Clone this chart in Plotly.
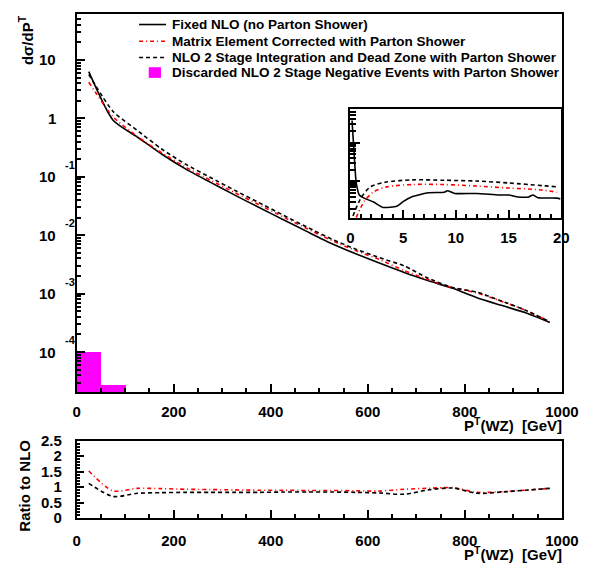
import plotly.graph_objects as go

# ---------------- data ----------------
pt = [25, 75, 125, 175, 225, 275, 325, 375, 425, 475, 525, 575, 625, 675, 725, 775, 825, 875, 925, 975]
fixed_nlo = [6.3, 0.93, 0.48, 0.245, 0.135, 0.081, 0.049, 0.030, 0.0186, 0.0115, 0.0072, 0.0048,
             0.0033, 0.0023, 0.00166, 0.00123, 0.00085, 0.00063, 0.00047, 0.00032]
me_corrected = [4.15, 1.06, 0.493, 0.258, 0.145, 0.0883, 0.0538, 0.0336, 0.0207, 0.0129, 0.00815, 0.00545,
                0.0038, 0.00247, 0.00173, 0.00126, 0.00103, 0.00074, 0.00052, 0.00033]
nlo_two_stage = [5.64, 1.31, 0.622, 0.299, 0.163, 0.098, 0.059, 0.0364, 0.0222, 0.0137, 0.00863, 0.00577,
                 0.00409, 0.00298, 0.00182, 0.00127, 0.00106, 0.00075, 0.00052, 0.00033]

neg_bins = [25, 75]
neg_values = [1.0e-4, 2.7e-5]

ratio_me = [1.52, 0.88, 0.96, 0.95, 0.93, 0.92, 0.91, 0.90, 0.90, 0.89, 0.89, 0.88,
            0.87, 0.93, 0.96, 0.98, 0.83, 0.85, 0.90, 0.96]
ratio_two_stage = [1.12, 0.70, 0.80, 0.82, 0.83, 0.83, 0.83, 0.83, 0.84, 0.84, 0.84, 0.83,
                   0.81, 0.77, 0.91, 0.97, 0.80, 0.84, 0.90, 0.96]

inset_x_nlo = [0.16, 0.39, 0.55, 0.85, 1.3, 2.2, 3.1, 4.4, 5.0, 5.9, 7.4, 8.9, 9.2, 9.9, 12.0, 14.1,
               15.0, 15.9, 16.9, 17.3, 17.8, 19.6, 19.9]
inset_nlo = [37.2, 3.72, 0.955, 0.447, 0.372, 0.295, 0.214, 0.229, 0.302, 0.407, 0.513, 0.525, 0.575,
             0.490, 0.490, 0.447, 0.447, 0.398, 0.398, 0.447, 0.380, 0.372, 0.355]
inset_x_two = [0.25, 1.0, 1.9, 3.3, 5.9, 8.9, 12.0, 15.0, 19.6]
inset_two = [0.129, 0.372, 0.724, 0.955, 1.096, 1.072, 1.023, 0.912, 0.724]
inset_x_me = [0.55, 1.3, 2.2, 3.45, 5.9, 8.9, 12.0, 15.0, 18.1, 19.6]
inset_me = [0.117, 0.302, 0.537, 0.724, 0.832, 0.832, 0.759, 0.676, 0.603, 0.525]

legend_labels = ["Fixed NLO (no Parton Shower)",
                 "Matrix Element Corrected with Parton Shower",
                 "NLO 2 Stage Integration and Dead Zone with Parton Shower",
                 "Discarded NLO 2 Stage Negative Events with Parton Shower"]

main_x_ticks = [0, 200, 400, 600, 800, 1000]
ratio_y_ticks = [0, 0.5, 1, 1.5, 2, 2.5]
ratio_y_labels = ["0", "0.5", "1", "1.5", "2", "2.5"]
inset_x_ticks = [0, 5, 10, 15, 20]
decades = [1, 0, -1, -2, -3, -4]

# ---------------- layout helpers ----------------
W, H = 596, 573
def px(x):
    return x / W
def py(y):
    return 1 - y / H

# main log axis: value 1 at y=112.7px, 60.2px per decade
Y_ONE, DEC = 112.7, 60.2
MAIN_TOP, MAIN_BOT = 5.0, 395.0

FONT = "Liberation Sans, Arial, Helvetica, sans-serif"
BLACK_SOLID = dict(color="black", width=1.6)
RED_DASHDOT = dict(color="#ff0000", width=1.6, dash="4px,3px,1px,3px")
BLACK_DASH = dict(color="black", width=1.6, dash="4px,3px")

fig = go.Figure()

# main panel
fig.add_trace(go.Bar(x=neg_bins, y=neg_values, width=50, marker=dict(color="#ff00ff", line=dict(width=0)),
                     xaxis="x", yaxis="y", name=legend_labels[3], showlegend=False))
fig.add_trace(go.Scatter(x=pt, y=fixed_nlo, mode="lines", line=dict(**BLACK_SOLID, shape="spline", smoothing=0.6),
                         xaxis="x", yaxis="y", name=legend_labels[0], showlegend=False))
fig.add_trace(go.Scatter(x=pt, y=me_corrected, mode="lines", line=dict(**RED_DASHDOT, shape="spline", smoothing=0.6),
                         xaxis="x", yaxis="y", name=legend_labels[1], showlegend=False))
fig.add_trace(go.Scatter(x=pt, y=nlo_two_stage, mode="lines", line=dict(**BLACK_DASH, shape="spline", smoothing=0.6),
                         xaxis="x", yaxis="y", name=legend_labels[2], showlegend=False))

# ratio panel
fig.add_trace(go.Scatter(x=pt, y=ratio_me, mode="lines", line=dict(**RED_DASHDOT, shape="spline", smoothing=0.8),
                         xaxis="x2", yaxis="y2", showlegend=False))
fig.add_trace(go.Scatter(x=pt, y=ratio_two_stage, mode="lines", line=dict(**BLACK_DASH, shape="spline", smoothing=0.8),
                         xaxis="x2", yaxis="y2", showlegend=False))

# inset
fig.add_trace(go.Scatter(x=inset_x_nlo, y=inset_nlo, mode="lines", line=dict(**BLACK_SOLID, shape="spline", smoothing=0.5),
                         xaxis="x3", yaxis="y3", showlegend=False))
fig.add_trace(go.Scatter(x=inset_x_me, y=inset_me, mode="lines", line=dict(**RED_DASHDOT, shape="spline", smoothing=0.8),
                         xaxis="x3", yaxis="y3", showlegend=False))
fig.add_trace(go.Scatter(x=inset_x_two, y=inset_two, mode="lines", line=dict(**BLACK_DASH, shape="spline", smoothing=0.8),
                         xaxis="x3", yaxis="y3", showlegend=False))

tickfont = dict(family=FONT, size=15, color="black", weight="bold")
xdom = [px(75.3), px(578.3)]

main_minor_x = [v for v in range(50, 1000, 50) if v % 200 != 0]
ratio_minor_y = [0.1 * i for i in range(1, 25) if i % 5 != 0]
log_minor = []
for d in range(-5, 2):
    for m in range(2, 10):
        log_minor.append(m * 10 ** d)
inset_minor_y = [m * 10 ** d for d in (-1, 0, 1) for m in range(2, 10)]

axis_common = dict(showline=True, linecolor="black", linewidth=1.6, mirror=True, ticks="inside",
                   tickcolor="black", tickwidth=1.5, showgrid=False, zeroline=False, tickfont=tickfont)

fig.update_layout(
    width=W, height=H, autosize=False,
    margin=dict(l=0, r=0, t=0, b=0),
    paper_bgcolor="white", plot_bgcolor="white",
    bargap=0, showlegend=False,
    xaxis=dict(domain=xdom, range=[0, 1000], anchor="y", tickmode="array", tickvals=main_x_ticks,
               ticklen=8, ticklabelstandoff=5,
               minor=dict(tickmode="array", tickvals=main_minor_x, ticklen=4, ticks="inside",
                          tickcolor="black", tickwidth=1.5), **axis_common),
    yaxis=dict(domain=[py(MAIN_BOT), py(MAIN_TOP)], type="log",
               range=[(Y_ONE - MAIN_BOT) / DEC, (Y_ONE - MAIN_TOP) / DEC], anchor="x",
               tickmode="array", tickvals=[10 ** d for d in decades], ticklen=9, showticklabels=False,
               minor=dict(tickmode="array", tickvals=log_minor, ticklen=5, ticks="inside",
                          tickcolor="black", tickwidth=1.5), **axis_common),
    xaxis2=dict(domain=xdom, range=[0, 1000], anchor="y2", tickmode="array", tickvals=main_x_ticks,
                ticklen=8, ticklabelstandoff=8,
                minor=dict(tickmode="array", tickvals=main_minor_x, ticklen=4, ticks="inside",
                           tickcolor="black", tickwidth=1.5), **axis_common),
    yaxis2=dict(domain=[py(524.7), py(444.7)], range=[0, 2.5], anchor="x2", tickmode="array",
                tickvals=ratio_y_ticks, ticktext=ratio_y_labels, ticklen=8, ticklabelstandoff=10,
                minor=dict(tickmode="array", tickvals=ratio_minor_y, ticklen=4, ticks="inside",
                           tickcolor="black", tickwidth=1.5), **axis_common),
    xaxis3=dict(domain=[px(359), px(577.7)], range=[0, 20], anchor="y3", tickmode="array",
                tickvals=inset_x_ticks, ticklen=9, ticklabelstandoff=5,
                minor=dict(tickmode="array", tickvals=list(range(1, 20)), ticklen=5, ticks="inside",
                           tickcolor="black", tickwidth=1.5), **axis_common),
    yaxis3=dict(domain=[py(215.7), py(103.3)], type="log", range=[-0.95, 1.86], anchor="x3",
                tickmode="array", tickvals=[1, 10], ticklen=10, showticklabels=False,
                minor=dict(tickmode="array", tickvals=inset_minor_y, ticklen=6, ticks="inside",
                           tickcolor="black", tickwidth=1.5), **axis_common),
)

annotations = []
# main y tick labels (ROOT style 10^n)
for d in decades:
    base = "1" if d == 0 else "10"
    annotations.append(dict(xref="paper", yref="y", x=px(56), y=d, text=base, showarrow=False,
                            xanchor="right", yanchor="middle", font=tickfont))
    if d < 0:
        annotations.append(dict(xref="paper", yref="y", x=px(61), y=d, yshift=12, text=str(d),
                                showarrow=False, xanchor="left", yanchor="middle",
                                font=dict(family=FONT, size=11, color="black", weight="bold")))

title_font = dict(family=FONT, size=15, color="black", weight="bold")
annotations += [
    dict(xref="paper", yref="paper", x=px(23), y=py(4), text="d\u03c3/dP<sup>T</sup>", textangle=-90,
         showarrow=False, xanchor="center", yanchor="top", font=title_font),
    dict(xref="paper", yref="paper", x=px(21), y=py(491), text="Ratio to NLO", textangle=-90,
         showarrow=False, xanchor="center", yanchor="middle", font=title_font),
    dict(xref="paper", yref="paper", x=px(580), y=py(428), text="P<sup>T</sup>(WZ)\u00a0\u00a0[GeV]",
         showarrow=False, xanchor="right", yanchor="middle", font=title_font),
    dict(xref="paper", yref="paper", x=px(580), y=py(561), text="P<sup>T</sup>(WZ)\u00a0\u00a0[GeV]",
         showarrow=False, xanchor="right", yanchor="middle", font=title_font),
]

# legend (manual, ROOT TLegend style)
leg_font = dict(family=FONT, size=13.5, color="black", weight="bold")
leg_rows = [16, 33.3, 50, 65.7]
shapes = []
for row, style in zip(leg_rows[:3], [BLACK_SOLID, RED_DASHDOT, BLACK_DASH]):
    shapes.append(dict(type="line", xref="paper", yref="paper", x0=px(140), x1=px(168),
                       y0=py(row), y1=py(row), line=style))
shapes.append(dict(type="rect", xref="paper", yref="paper", x0=px(150), x1=px(162.7),
                   y0=py(71), y1=py(60), fillcolor="#ff00ff", line=dict(width=0)))
for row, label in zip(leg_rows, legend_labels):
    annotations.append(dict(xref="paper", yref="paper", x=px(172), y=py(row), text=label,
                            showarrow=False, xanchor="left", yanchor="middle", font=leg_font))

fig.update_layout(annotations=annotations, shapes=shapes)
fig.write_html("out.html", config={"displayModeBar": False},
               post_script="document.body.style.margin='0';document.body.style.overflow='hidden';")
